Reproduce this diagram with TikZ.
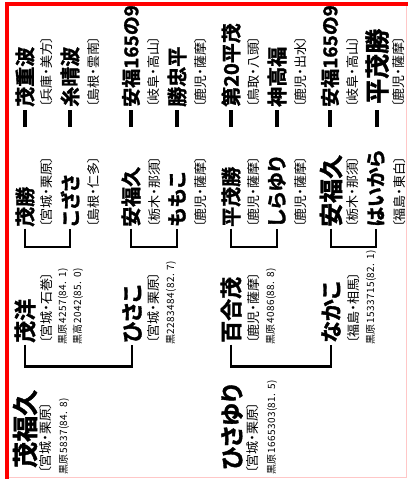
\documentclass[tikz,border=0pt]{standalone}
\usepackage{fontspec}
\newfontfamily\jp[RawFeature=+palt,BoldFont={Noto Sans CJK JP Bold},BoldFeatures={FakeBold=1.6}]{Noto Sans CJK JP}
\newfontfamily\jpn[RawFeature=+palt,LetterSpace=4.5]{Noto Sans CJK JP}

\begin{document}
\begin{tikzpicture}[
				x=1pt,y=-1pt,
				line cap=butt,
				nm/.style={rotate=90,anchor=west,inner sep=0pt,font=\jp\bfseries\fontsize{#1}{#1}\selectfont},
				nm/.default=20,
				pl/.style={rotate=90,anchor=west,inner sep=0pt,font=\jp\fontsize{13}{13}\selectfont},
				no/.style={rotate=90,anchor=west,inner sep=0pt,font=\jpn\fontsize{10}{10}\selectfont},
				br/.style={line width=2.8pt,shorten <=1.5pt,shorten >=1.5pt},
				dsh/.style={line width=3.2pt}
				]
				\useasboundingbox (0,0) rectangle (409,479);
				% frame
				\draw[red!22,line width=1pt] (406,4) -- (406,477) -- (7,477);
				\draw[red,line width=4pt] (7,479) -- (7,4) -- (408,4);
				
				% Family 1
				\begin{scope}
					\node[nm=26] (A1) at (25,468) {茂福久};
					\node[pl] (A1p) at (46,474) {〔宮城・栗原〕};
					\node[no] (A1n) at (64,475) {黒原5837(84. 8)};
					
					\node[nm=22] (S1) at (25,343) {茂洋};
					\node[pl] (S1p) at (47,344) {〔宮城・石巻〕};
					\node[no] (S1n) at (63,345) {黒原4257(84. 1)};
					\node[no] (S1m) at (78,345) {黒高2042(85. 0)};
					\node[nm=22] (D1) at (132,343) {ひさこ};
					\node[pl] (D1p) at (154,344) {〔宮城・栗原〕};
					\node[no] (D1n) at (171,345) {黒2283484(82. 7)};
					\draw[br] (S1.west) -- ++(0,23.5) -| (D1.west);
					
					\node[nm] (SS1) at (25,227) {茂勝};
					\node[pl] (SS1p) at (47,228) {〔宮城・栗原〕};
					\node[nm] (SD1) at (70,227) {こざさ};
					\node[pl] (SD1p) at (94,228) {〔島根・仁多〕};
					\node[nm] (DS1) at (131,227) {安福久};
					\node[pl] (DS1p) at (155,228) {〔栃木・那須〕};
					\node[nm] (DD1) at (177,227) {ももこ};
					\node[pl] (DD1p) at (201,228) {〔鹿児・薩摩〕};
					\draw[br] (SS1.west) -- ++(0,20) -| (SD1.west);
					\draw[br] (DS1.west) -- ++(0,20) -| (DD1.west);
					
					\node[nm] (SSS1) at (25,107) {茂重波};
					\node[pl] (SSS1p) at (47,108) {〔兵庫・美方〕};
					\node[nm] (SDS1) at (70,107) {糸晴波};
					\node[pl] (SDS1p) at (94,108) {〔島根・雲南〕};
					\node[nm=19] (DSS1) at (131,107) {安福165の9};
					\node[pl] (DSS1p) at (154,108) {〔岐阜・高山〕};
					\node[nm] (DDS1) at (177,107) {勝忠平};
					\node[pl] (DDS1p) at (201,108) {〔鹿児・薩摩〕};
					\draw[dsh] (SSS1.west) ++(0,3) -- ++(0,17);
					\draw[dsh] (SDS1.west) ++(0,3) -- ++(0,17);
					\draw[dsh] (DSS1.west) ++(0,3) -- ++(0,17);
					\draw[dsh] (DDS1.west) ++(0,3) -- ++(0,17);
				\end{scope}
				
				% Family 2
				\begin{scope}
					\node[nm=24] (A2) at (232,470) {ひさゆり};
					\node[pl] (A2p) at (253,474) {〔宮城・栗原〕};
					\node[no] (A2n) at (272,475) {黒原1665303(81. 5)};
					
					\node[nm=22] (S2) at (231,343) {百合茂};
					\node[pl] (S2p) at (254,344) {〔鹿児・薩摩〕};
					\node[no] (S2n) at (271,345) {黒原4086(88. 8)};
					\node[nm=22] (D2) at (331,343) {なかこ};
					\node[pl] (D2p) at (354,344) {〔福島・相馬〕};
					\node[no] (D2n) at (371,345) {黒原1533715(82. 1)};
					\draw[br] (S2.west) -- ++(0,23.5) -| (D2.west);
					
					\node[nm] (SS2) at (231,227) {平茂勝};
					\node[pl] (SS2p) at (254,228) {〔鹿児・薩摩〕};
					\node[nm] (SD2) at (277,227) {しらゆり};
					\node[pl] (SD2p) at (301,228) {〔鹿児・薩摩〕};
					\node[nm=24] (DS2) at (331,227) {安福久};
					\node[pl] (DS2p) at (353,228) {〔栃木・那須〕};
					\node[nm] (DD2) at (376,227) {はいから};
					\node[pl] (DD2p) at (400,228) {〔福島・東白〕};
					\draw[br] (SS2.west) -- ++(0,20) -| (SD2.west);
					\draw[br] (DS2.west) -- ++(0,20) -| (DD2.west);
					
					\node[nm] (SSS2) at (231,107) {第20平茂};
					\node[pl] (SSS2p) at (254,108) {〔鳥取・八頭〕};
					\node[nm] (SDS2) at (277,107) {神高福};
					\node[pl] (SDS2p) at (301,108) {〔鹿児・出水〕};
					\node[nm=19] (DSS2) at (330,107) {安福165の9};
					\node[pl] (DSS2p) at (353,108) {〔岐阜・高山〕};
					\node[nm=25] (DDS2) at (377,104) {平茂勝};
					\node[pl] (DDS2p) at (399,108) {〔鹿児・薩摩〕};
					\draw[dsh] (SSS2.west) ++(0,3) -- ++(0,17);
					\draw[dsh] (SDS2.west) ++(0,3) -- ++(0,17);
					\draw[dsh] (DSS2.west) ++(0,3) -- ++(0,17);
					\draw[dsh] (DDS2.west) ++(0,6) -- ++(0,17);
				\end{scope}
			\end{tikzpicture}
\end{document}
